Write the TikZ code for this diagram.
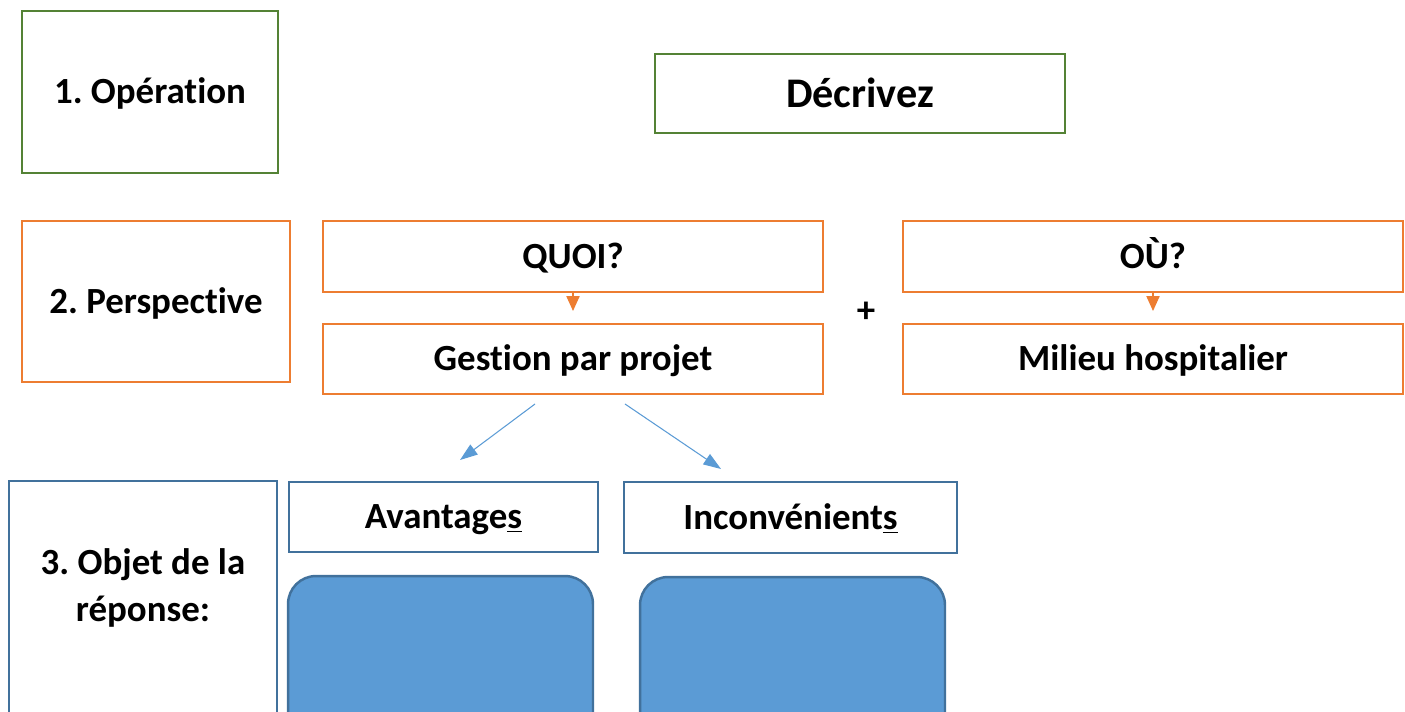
\documentclass[tikz,border=0pt]{standalone}
\usepackage{fontspec}
\setmainfont{Carlito}[Ligatures=NoCommon]
\usetikzlibrary{arrows.meta}
\definecolor{opgreen}{RGB}{84,130,53}
\definecolor{persorange}{RGB}{237,125,49}
\definecolor{objblue}{RGB}{65,113,156}
\definecolor{fillblue}{RGB}{91,155,213}
\frenchspacing
\begin{document}
\begin{tikzpicture}[x=0.02cm, y=-0.02cm,
  every node/.style={font=\fontsize{21}{26.5}\selectfont\bfseries, inner sep=0pt, outer sep=0pt},
  oneline/.style={text height=16.8pt, text depth=3.15pt},
  greenbox/.style={oneline, draw=opgreen, line width=1.4pt},
  orangebox/.style={oneline, draw=persorange, line width=1.4pt, minimum width=10cm},
  bluebox/.style={oneline, draw=objblue, line width=1.4pt},
  answerbox/.style={draw=objblue, line width=1.4pt, fill=fillblue, rounded corners=0.56cm, minimum width=6.1cm, minimum height=3.68cm},
  smallarrow/.style={draw=persorange, line width=0.8pt, -{Triangle[length=8.5pt,width=7.5pt]}, shorten >=7.4pt},
  bluearrow/.style={draw=fillblue, line width=0.6pt, -{Triangle[length=10pt,width=7pt]}}]
\clip (0,0) rectangle (1405,712);
% 1. operation
\node[greenbox, minimum width=5.12cm, minimum height=3.24cm] (op) at (150,92) {1. Opération};
\node[greenbox, minimum width=8.2cm, minimum height=1.58cm, text height=19.2pt, text depth=3.6pt, font=\fontsize{24}{28}\selectfont\bfseries] (decrivez) at (860,93.5) {Décrivez};
% 2. perspective
\node[orangebox, minimum width=5.36cm, minimum height=3.22cm] (persp) at (156,301.5) {2. Perspective};
\node[orangebox, minimum height=1.42cm] (quoi) at (573,256.5) {QUOI?};
\node[orangebox, minimum height=1.4cm] (gestion) at (573,359) {Gestion par projet};
\node[orangebox, minimum height=1.42cm] (ou) at (1153,256.5) {OÙ?};
\node[orangebox, minimum height=1.4cm] (milieu) at (1153,359) {Milieu hospitalier};
\node[oneline] (plus) at (866,311) {+};
\draw[smallarrow] (quoi.south) -- (gestion.north);
\draw[smallarrow] (ou.south) -- (milieu.north);
% 3. objet
\node[draw=objblue, line width=1.4pt, minimum width=5.36cm, minimum height=5.18cm] (objet) at (143,610.5) {};
\node[align=center] (objtxt) at (143,588) {3. Objet de la\\réponse:};
\node[bluebox, minimum width=6.18cm, minimum height=1.4cm] (avant) at (443.5,517) {Avantage\underline{s}};
\node[bluebox, minimum width=6.66cm, minimum height=1.42cm] (incon) at (790.5,517.5) {Inconvénient\underline{s}};
\node[answerbox] (avantrep) at (440.5,668) {};
\node[answerbox] (inconrep) at (792.5,669) {};
\coordinate (avtip) at (460,460);
\coordinate (intip) at (721,469);
\draw[bluearrow] ([xshift=-0.76cm,yshift=-0.2cm]gestion.south) -- (avtip);
\draw[bluearrow] ([xshift=1.04cm,yshift=-0.2cm]gestion.south) -- (intip);
\end{tikzpicture}
\end{document}
